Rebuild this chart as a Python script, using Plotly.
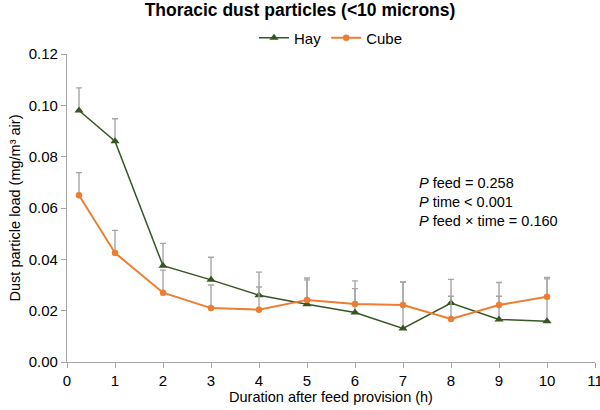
import plotly.graph_objects as go

time_h = [0.25, 1, 2, 3, 4, 5, 6, 7, 8, 9, 10]
hay = [0.0980, 0.0860, 0.0375, 0.0320, 0.0260, 0.0225, 0.0193, 0.0131, 0.0230, 0.0166, 0.0159]
hay_err = [0.0088, 0.0088, 0.0087, 0.0088, 0.0090, 0.0095, 0.0093, 0.0180, 0.0092, 0.0090, 0.0165]
cube = [0.0650, 0.0425, 0.0270, 0.0210, 0.0204, 0.0242, 0.0226, 0.0222, 0.0168, 0.0222, 0.0254]
cube_err = [0.0088, 0.0088, 0.0088, 0.0090, 0.0088, 0.0085, 0.0090, 0.0090, 0.0088, 0.0088, 0.0075]

hay_color = "#375623"
cube_color = "#ED7D31"
err_color = "#A6A6A6"
font = "Liberation Sans, Arial, sans-serif"

fig = go.Figure()
fig.add_trace(go.Scatter(
    x=time_h, y=hay, name="Hay", mode="lines+markers",
    line=dict(color=hay_color, width=1.5),
    marker=dict(symbol="triangle-up", size=8, color=hay_color),
    error_y=dict(type="data", array=hay_err, arrayminus=[0] * len(hay_err), symmetric=False,
                 color=err_color, thickness=1.4, width=3),
))
fig.add_trace(go.Scatter(
    x=time_h, y=cube, name="Cube", mode="lines+markers",
    line=dict(color=cube_color, width=2),
    marker=dict(symbol="circle", size=6.5, color=cube_color),
    error_y=dict(type="data", array=cube_err, arrayminus=[0] * len(cube_err), symmetric=False,
                 color=err_color, thickness=1.4, width=3),
))

fig.add_annotation(
    x=0.663, y=0.615, xref="paper", yref="paper", xanchor="left", yanchor="top",
    align="left", showarrow=False,
    text="<i>P</i> feed = 0.258<br><i>P</i> time < 0.001<br><i>P</i> feed × time = 0.160",
    font=dict(family=font, size=14.5, color="#000000"),
)

fig.update_layout(
    width=600, height=410,
    margin=dict(l=67, r=5, t=54, b=48),
    paper_bgcolor="white", plot_bgcolor="white",
    font=dict(family=font, size=15, color="#000000"),
    title=dict(text="<b>Thoracic dust particles (<10 microns)</b>", x=0.5, xanchor="center",
               y=0.975, yanchor="middle", font=dict(family=font, size=17.5, color="#000000")),
    legend=dict(orientation="h", x=0.5, xanchor="center", y=1.052, yanchor="middle",
                font=dict(family=font, size=15), tracegroupgap=0),
    showlegend=True,
)
fig.update_xaxes(
    range=[0, 11], dtick=1, tick0=0, showgrid=False, zeroline=False, automargin=False,
    showline=True, linecolor="#A6A6A6", linewidth=1.2, ticks="outside", ticklen=5,
    tickcolor="#A6A6A6", tickfont=dict(family=font, size=15), ticklabeloverflow="allow",
    title=dict(text="Duration after feed provision (h)", standoff=3,
               font=dict(family=font, size=14.5)),
)
fig.update_yaxes(
    range=[0, 0.12], dtick=0.02, tick0=0, tickformat=".2f", showgrid=False, zeroline=False,
    automargin=False,
    showline=True, linecolor="#A6A6A6", linewidth=1.2, ticks="outside", ticklen=5,
    tickcolor="#A6A6A6", tickfont=dict(family=font, size=15),
    title=dict(text="Dust particle load (mg/m³ air)", standoff=4,
               font=dict(family=font, size=14.5)),
)

fig.write_html("out.html", config={"displayModeBar": False},
               post_script="document.body.style.margin='0';")
